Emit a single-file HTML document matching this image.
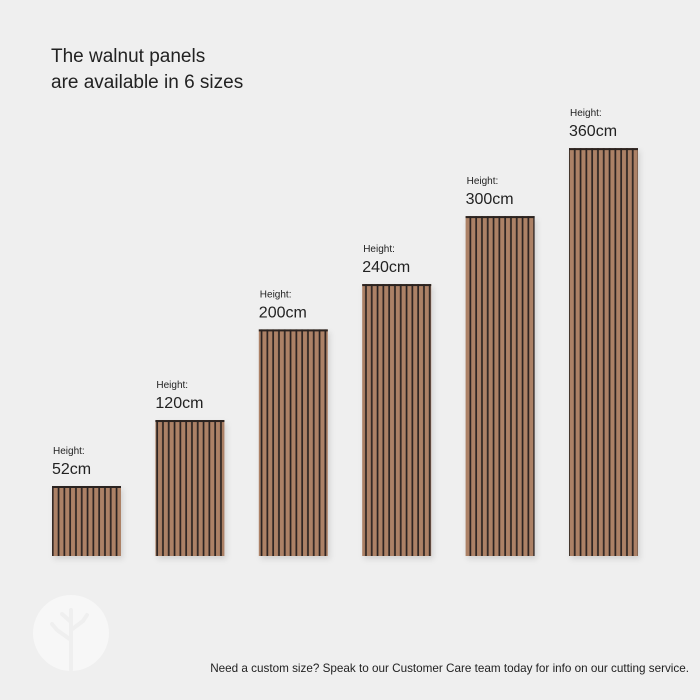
<!DOCTYPE html>
<html><head><meta charset="utf-8"><style>
html,body{margin:0;padding:0;background:#efefef;}
body{width:700px;height:700px;overflow:hidden;font-family:"Liberation Sans",sans-serif;}
</style></head><body>
<svg id="chart" width="700" height="700" xmlns="http://www.w3.org/2000/svg" style="display:block">
<defs>
<pattern id="slats" patternUnits="userSpaceOnUse" width="5.8" height="10">
<rect width="5.8" height="10" fill="#2b2320"/>
<rect x="1.4" width="4.1" height="10" fill="#ac8166"/>
</pattern>
<filter id="sh" x="-20%" y="-20%" width="140%" height="140%"><feDropShadow dx="2" dy="3" stdDeviation="3" flood-color="#000" flood-opacity="0.12"/></filter>
</defs>
<rect width="700" height="700" fill="#efefef"/>
<text x="51" y="62" font-size="19" fill="#222">The walnut panels</text>
<text x="51" y="88" font-size="19" fill="#222">are available in 6 sizes</text>
<g>
<circle cx="71" cy="633" r="38" fill="#f7f7f7"/>
<path d="M71 670 V610 M71 640 l-14 -10 M71 630 l12 -9 M71 622 l-9 -8 M57 630 l-5 -6 M83 621 l4 -6" stroke="#efefef" stroke-width="4" fill="none" stroke-linecap="round"/>
</g>
<g id="bars"></g>
<text x="689" y="672" font-size="11.7" fill="#222" text-anchor="end">Need a custom size? Speak to our Customer Care team today for info on our cutting service.</text>
</svg>
<script>
const categories = ["52cm","120cm","200cm","240cm","300cm","360cm"];
const heightsCm = [52,120,200,240,300,360];
const labelPrefix = "Height:";
const baseY = 556, pxPerCm = 1.133, minH = 70, x0 = 52, step = 103.4, barW = 69;
function yScale(v){ return baseY - Math.max(v*pxPerCm, minH); }
function xScale(i){ return x0 + i*step; }
const g = document.getElementById('bars');
const NS = "http://www.w3.org/2000/svg";
heightsCm.forEach((v,i)=>{
  const x = xScale(i), y = yScale(v);
  const grp = document.createElementNS(NS,'g');
  
  
  const r = document.createElementNS(NS,'rect');
  r.setAttribute('x', x); r.setAttribute('y', y);
  r.setAttribute('width', barW); r.setAttribute('height', baseY - y);
  r.setAttribute('fill', 'url(#slats)'); r.setAttribute('filter','url(#sh)');
  
  
  grp.appendChild(r);
  const top = document.createElementNS(NS,'rect');
  top.setAttribute('x', x); top.setAttribute('y', y);
  top.setAttribute('width', barW); top.setAttribute('height', 2);
  top.setAttribute('fill', '#2b2320');
  
  
  grp.appendChild(top);
  const t1 = document.createElementNS(NS,'text');
  t1.setAttribute('x', x+1); t1.setAttribute('y', y-32);
  t1.setAttribute('font-size','10'); t1.setAttribute('fill','#222');
  t1.textContent = labelPrefix;
  
  
  grp.appendChild(t1);
  const t2 = document.createElementNS(NS,'text');
  t2.setAttribute('x', x); t2.setAttribute('y', y-12);
  t2.setAttribute('font-size','16'); t2.setAttribute('fill','#222');
  t2.textContent = categories[i];
  
  
  grp.appendChild(t2);
  g.appendChild(grp);
});
</script>
</body></html>
